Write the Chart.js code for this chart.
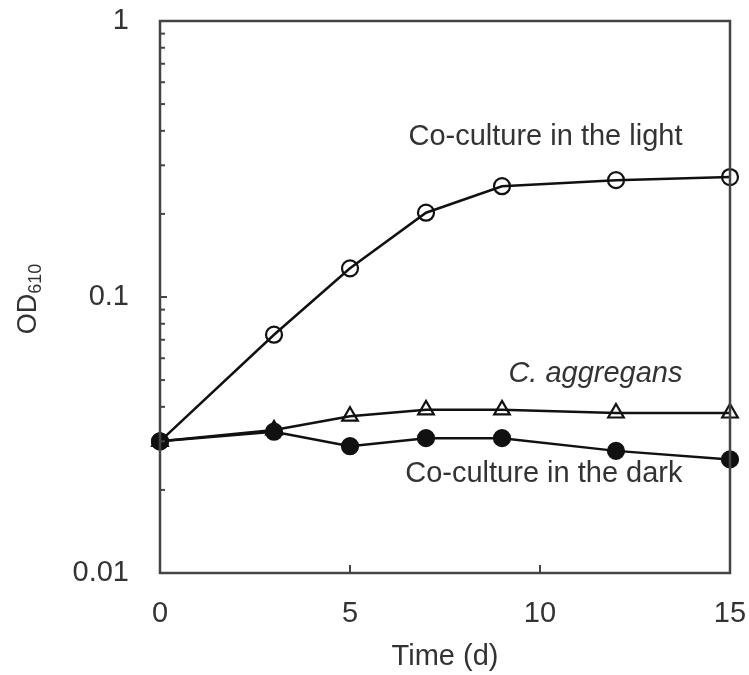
<!DOCTYPE html>
<html>
<head>
<meta charset="utf-8">
<script src="https://cdn.jsdelivr.net/npm/chart.js@4/dist/chart.umd.min.js"></script>
<style>
  html, body { margin: 0; padding: 0; background: #fff; }
</style>
</head>
<body>
<canvas id="odChart" width="749" height="675"></canvas>
<script>
// growth curves, OD610 on log scale
const days = [0, 3, 5, 7, 9, 12, 15];
const coLight = [0.030, 0.073, 0.127, 0.202, 0.252, 0.265, 0.272];
const aggregans = [0.030, 0.033, 0.037, 0.039, 0.039, 0.038, 0.038];
const coDark = [0.030, 0.0325, 0.0288, 0.0308, 0.0308, 0.0277, 0.0258];
const yTickLabels = [0.01, 0.1, 1];
const xTickStep = 5;
const seriesNames = ["Co-culture in the light", "C. aggregans", "Co-culture in the dark"];

const FONT = "'Liberation Sans', Arial, sans-serif";
const TEXT = "#333";

function pts(vals) {
    return days.map((d, i) => ({ x: d, y: vals[i] }));
}

// don't let edge labels push the plot area in
function noEdgePadding(s) {
    s.paddingTop = 0;
    s.paddingBottom = 0;
    s.paddingLeft = 0;
    s.paddingRight = 0;
}

// frame, inward ticks, y title and curve labels
const decorPlugin = {
    id: "decor",
    afterDraw(chart) {
        const { ctx, chartArea: a, scales } = chart;
        const xs = scales.x, ys = scales.y;
        ctx.save();
        ctx.strokeStyle = "#444";
        ctx.lineWidth = 2.5;
        ctx.strokeRect(a.left, a.top, a.right - a.left, a.bottom - a.top);

        ctx.lineWidth = 2;
        ys.ticks.forEach(t => {
            const y = ys.getPixelForValue(t.value);
            const len = yTickLabels.includes(t.value) ? 7 : 5;
            ctx.beginPath();
            ctx.moveTo(a.left, y);
            ctx.lineTo(a.left + len, y);
            ctx.stroke();
        });
        xs.ticks.forEach(t => {
            if (t.value <= xs.min || t.value >= xs.max) return;
            const x = xs.getPixelForValue(t.value);
            ctx.beginPath();
            ctx.moveTo(x, a.bottom);
            ctx.lineTo(x, a.bottom - 8);
            ctx.stroke();
        });

        // y axis title with subscript
        ctx.fillStyle = TEXT;
        ctx.translate(36, (a.top + a.bottom) / 2 + 2);
        ctx.rotate(-Math.PI / 2);
        ctx.textBaseline = "alphabetic";
        ctx.font = "27px " + FONT;
        const wMain = ctx.measureText("OD").width;
        ctx.font = "18px " + FONT;
        const wSub = ctx.measureText("610").width;
        const start = -(wMain + wSub) / 2;
        ctx.font = "27px " + FONT;
        ctx.fillText("OD", start, 0);
        ctx.font = "18px " + FONT;
        ctx.fillText("610", start + wMain, 5);
        ctx.restore();

        // curve labels
        const labels = chart.options.plugins.decor.labels;
        ctx.save();
        ctx.fillStyle = TEXT;
        ctx.textAlign = "right";
        ctx.textBaseline = "middle";
        labels.forEach(l => {
            ctx.font = (l.italic ? "italic " : "") + "29px " + FONT;
            ctx.fillText(l.text, xs.getPixelForValue(l.x), ys.getPixelForValue(l.y));
        });
        ctx.restore();
    }
};

const lineStyle = {
    borderColor: "#111",
    borderWidth: 2.5,
    pointBorderWidth: 2.2,
    pointBorderColor: "#111",
    tension: 0,
    clip: false
};

new Chart(document.getElementById("odChart"), {
    type: "line",
    data: {
        datasets: [
            Object.assign({ label: seriesNames[0], data: pts(coLight), pointStyle: "circle", pointRadius: 8, pointBackgroundColor: "rgba(0,0,0,0)", order: 3 }, lineStyle),
            Object.assign({ label: seriesNames[1], data: pts(aggregans), pointStyle: "triangle", pointRadius: 9, pointBackgroundColor: "rgba(0,0,0,0)", order: 2 }, lineStyle),
            Object.assign({ label: seriesNames[2], data: pts(coDark), pointStyle: "circle", pointRadius: 8, pointBackgroundColor: "#111", order: 1 }, lineStyle)
        ]
    },
    options: {
        responsive: false,
        animation: false,
        layout: { autoPadding: false, padding: { top: 21, right: 19, left: 0, bottom: 0 } },
        plugins: {
            legend: { display: false },
            tooltip: { enabled: false },
            decor: {
                labels: [
                    { text: seriesNames[0], x: 13.75, y: 0.38, italic: false },
                    { text: seriesNames[1], x: 13.75, y: 0.0525, italic: true },
                    { text: seriesNames[2], x: 13.75, y: 0.0228, italic: false }
                ]
            }
        },
        scales: {
            x: {
                type: "linear",
                min: 0,
                max: 15,
                grid: { display: false },
                border: { display: false },
                ticks: { stepSize: xTickStep, color: TEXT, padding: 16, font: { size: 29, family: FONT } },
                title: { display: true, text: "Time (d)", color: TEXT, padding: { top: 0, bottom: 1 }, font: { size: 29, family: FONT } },
                afterFit(s) { s.height = 102; noEdgePadding(s); }
            },
            y: {
                type: "logarithmic",
                min: 0.01,
                max: 1,
                grid: { display: false },
                border: { display: false },
                afterBuildTicks(s) {
                    const t = [];
                    for (let i = 0; i < yTickLabels.length - 1; i++) {
                        for (let m = 1; m <= 9; m++) t.push({ value: +(yTickLabels[i] * m).toPrecision(3) });
                    }
                    t.push({ value: yTickLabels[yTickLabels.length - 1] });
                    s.ticks = t;
                },
                ticks: {
                    autoSkip: false,
                    color: TEXT,
                    padding: 23,
                    font: { size: 29, family: FONT },
                    callback: v => yTickLabels.includes(v) ? String(v) : ""
                },
                afterFit(s) { s.width = 160; noEdgePadding(s); }
            }
        }
    },
    plugins: [decorPlugin]
});
</script>
</body>
</html>
